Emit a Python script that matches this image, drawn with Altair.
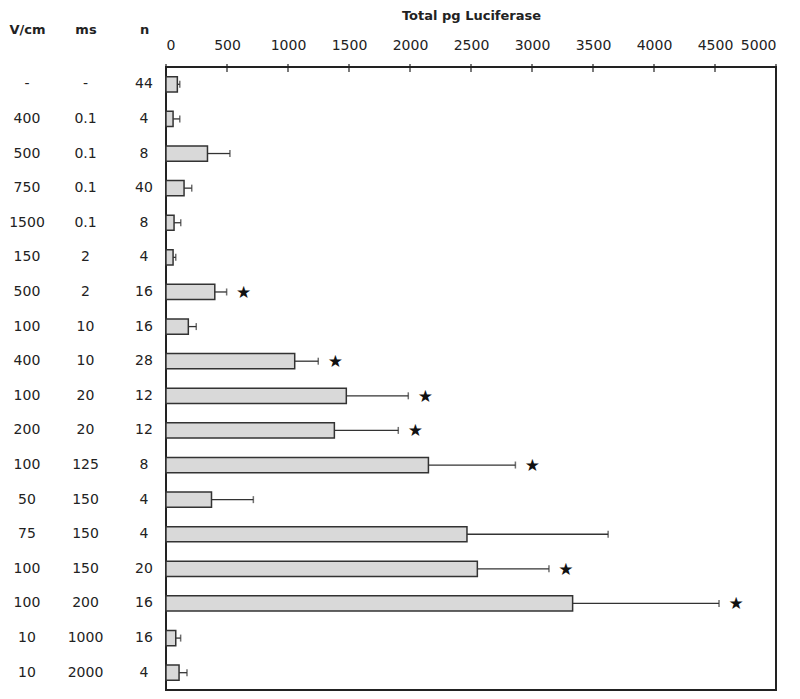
import altair as alt
import pandas as pd

# ---- data ----
vcm = ["-", "400", "500", "750", "1500", "150", "500", "100", "400", "100",
       "200", "100", "50", "75", "100", "100", "10", "10"]
ms = ["-", "0.1", "0.1", "0.1", "0.1", "2", "2", "10", "10", "20",
      "20", "125", "150", "150", "150", "200", "1000", "2000"]
n_vals = ["44", "4", "8", "40", "8", "4", "16", "16", "28", "12",
          "12", "8", "4", "4", "20", "16", "16", "4"]
mean = [93, 58, 340, 148, 66, 58, 400, 183, 1055, 1478,
        1380, 2151, 373, 2467, 2552, 3333, 80, 107]
err = [20, 55, 184, 63, 55, 22, 97, 65, 193, 508,
       524, 713, 343, 1157, 587, 1200, 40, 65]
sig = [False, False, False, False, False, False, True, False, True, True,
       True, True, False, False, True, True, False, False]
tick_values = [0, 500, 1000, 1500, 2000, 2500, 3000, 3500, 4000, 4500, 5000]
col_names = ["V/cm", "ms", "n"]

rows = list(range(len(mean)))
df = pd.DataFrame({
    "row": rows,
    "mean": mean,
    "upper": [m + e for m, e in zip(mean, err)],
    "sig": sig,
})
df_sig = df[df["sig"]].copy()
df_sig["star"] = "★"

text_rows = []
for i in rows:
    for c, v in zip(col_names, [vcm[i], ms[i], n_vals[i]]):
        text_rows.append({"row": i, "col": c, "val": v})
df_text = pd.DataFrame(text_rows)
df_ticks = pd.DataFrame({"t": tick_values})

FONT = "DejaVu Sans"
INK = "#222222"

y_enc = alt.Y("row:O", axis=None,
              scale=alt.Scale(domain=rows, paddingInner=0.56, paddingOuter=0.28))
x_scale = alt.Scale(domain=[0, 5000], nice=False, zero=True)

bars = alt.Chart(df).mark_bar(fill="#d9d9d9", stroke="#333333", strokeWidth=1.5).encode(
    y=y_enc,
    x=alt.X("mean:Q", scale=x_scale,
            axis=alt.Axis(orient="top", values=tick_values, format="d", tickSize=0,
                          ticks=False, domain=False, grid=False, labelFont=FONT,
                          labelFontSize=14, labelColor=INK, labelPadding=15,
                          title="Total pg Luciferase", titleFont=FONT,
                          titleFontSize=13, titleFontWeight="bold", titleColor=INK,
                          titlePadding=16)),
)

err_rule = alt.Chart(df).mark_rule(color="#333333", strokeWidth=1.3).encode(
    y=y_enc,
    x=alt.X("mean:Q", scale=x_scale),
    x2="upper:Q",
)
err_cap = alt.Chart(df).mark_tick(color="#333333", thickness=1.5, size=7,
                                  orient="vertical").encode(
    y=y_enc,
    x=alt.X("upper:Q", scale=x_scale),
)
stars = alt.Chart(df_sig).mark_text(font=FONT, fontSize=17, color="#111111",
                                    dx=17, dy=1).encode(
    y=y_enc,
    x=alt.X("upper:Q", scale=x_scale),
    text="star:N",
)
ticks = alt.Chart(df_ticks).mark_rule(color="#222222", strokeWidth=1.2).encode(
    x=alt.X("t:Q", scale=x_scale),
    y=alt.value(-3),
    y2=alt.value(5),
)

main = alt.layer(bars, err_rule, err_cap, stars, ticks).properties(
    width=610, height=623,
    view=alt.ViewBackground(stroke="#222222", strokeWidth=2),
)

left = alt.Chart(df_text).mark_text(font=FONT, fontSize=14, color=INK).encode(
    y=y_enc,
    x=alt.X("col:N", scale=alt.Scale(type="point", domain=col_names, padding=0.29),
            axis=alt.Axis(orient="top", ticks=False, domain=False, title=None,
                          labelAngle=0, labelFont=FONT, labelFontSize=13,
                          labelFontWeight="bold", labelColor=INK, labelPadding=31)),
    text="val:N",
).properties(width=151, height=623, view=alt.ViewBackground(stroke=None))

chart = alt.hconcat(left, main, spacing=3).resolve_scale(y="shared").properties(
    padding=0
).configure(background="white")

chart.save("out.html", embed_options={"renderer": "svg", "actions": False})
